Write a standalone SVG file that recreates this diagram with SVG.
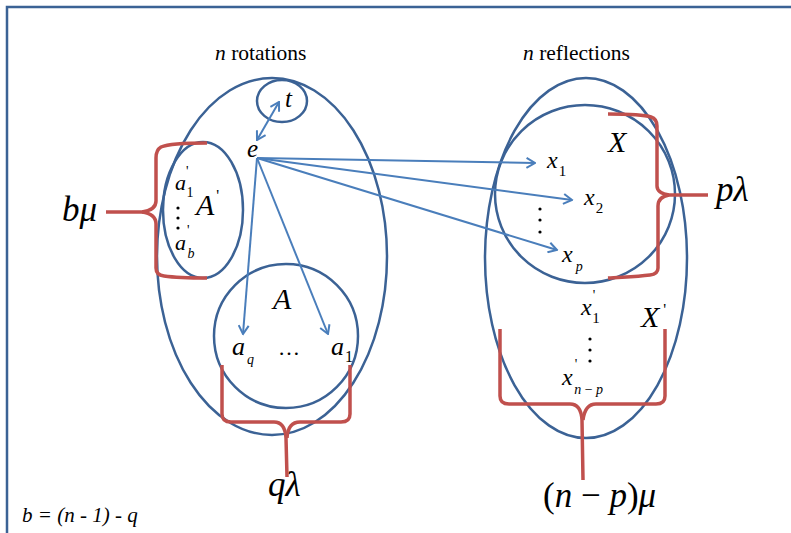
<svg xmlns="http://www.w3.org/2000/svg" width="791" height="533" viewBox="0 0 791 533">
<defs>
<style>
.ell{fill:none;stroke:#3b6295;stroke-width:2.5}
.br{fill:none;stroke:#c0504d;stroke-width:3.5;stroke-linecap:butt;stroke-linejoin:round}
.ar{fill:none;stroke:#4a7ebb;stroke-width:2}
text{font-family:'Liberation Serif','Times New Roman',serif;fill:#000}
.m{font-style:italic}
.r{font-style:normal}
</style>
<marker id="ah" viewBox="0 0 12 12" refX="10.5" refY="6" markerWidth="12" markerHeight="12" orient="auto-start-reverse" markerUnits="userSpaceOnUse">
<path d="M2,1 L10.5,6 L2,11" fill="none" stroke="#4a7ebb" stroke-width="2"/>
</marker>
</defs>
<rect x="0" y="0" width="791" height="533" fill="#fff"/>
<rect x="7" y="7" width="800" height="560" fill="none" stroke="#3b6295" stroke-width="2.5"/>

<g id="rotations">
<ellipse class="ell" cx="272" cy="256.5" rx="115" ry="178.5"/>
<text x="215" y="60" font-size="21.5"><tspan class="m">n</tspan> rotations</text>
</g>
<g id="node-t">
<ellipse class="ell" cx="282" cy="101" rx="25" ry="21"/>
<text class="m" x="285" y="107" font-size="25">t</text>
</g>
<g id="node-e">
<text class="m" x="247" y="157" font-size="25">e</text>
</g>
<g id="node-Aprime">
<ellipse class="ell" cx="203" cy="210" rx="40" ry="68"/>
<text class="m" x="196" y="215" font-size="30">A<tspan class="r" dx="2" dy="-14" font-size="16">'</tspan></text>
<text class="m" x="175" y="190" font-size="22">a<tspan class="r" dx="0" dy="-14" font-size="14">'</tspan><tspan class="r" dx="-2" dy="21" font-size="14">1</tspan></text>
<circle cx="178" cy="208" r="1.6"/><circle cx="178" cy="218" r="1.6"/><circle cx="178" cy="228" r="1.6"/>
<text class="m" x="175" y="250" font-size="22">a<tspan class="r" dx="1" dy="-15" font-size="14">'</tspan><tspan dx="-2" dy="23" font-size="14">b</tspan></text>
</g>
<g id="node-A">
<ellipse class="ell" cx="286" cy="336" rx="72" ry="72"/>
<text class="m" x="273" y="309" font-size="30">A</text>
<text class="m" x="232" y="355" font-size="26">a<tspan dx="2" dy="9" font-size="14">q</tspan></text>
<text class="r" x="278" y="355" font-size="22">…</text>
<text class="m" x="331" y="355" font-size="26">a<tspan class="r" dx="1" dy="7" font-size="16">1</tspan></text>
</g>
<g id="reflections">
<ellipse class="ell" cx="586" cy="258" rx="101" ry="180"/>
<text x="523" y="60" font-size="21.5"><tspan class="m">n</tspan> reflections</text>
</g>
<g id="node-X">
<ellipse class="ell" cx="585" cy="194" rx="90" ry="89"/>
<text class="m" x="608" y="152" font-size="30">X</text>
<text class="m" x="547" y="168" font-size="24">x<tspan class="r" dx="1" dy="8" font-size="15">1</tspan></text>
<text class="m" x="584" y="205" font-size="24">x<tspan class="r" dx="1" dy="8" font-size="15">2</tspan></text>
<circle cx="540" cy="209" r="1.6"/><circle cx="540" cy="220" r="1.6"/><circle cx="540" cy="232" r="1.6"/>
<text class="m" x="562" y="262" font-size="24">x<tspan dx="3" dy="9" font-size="14">p</tspan></text>
</g>
<g id="node-Xprime">
<text class="m" x="641" y="327" font-size="30">X<tspan class="r" dx="4" dy="-12" font-size="16">'</tspan></text>
<text class="m" x="581" y="315" font-size="24">x<tspan class="r" dx="1" dy="-15" font-size="14">'</tspan><tspan class="r" dx="-3" dy="23" font-size="15">1</tspan></text>
<circle cx="590" cy="339" r="1.6"/><circle cx="590" cy="350" r="1.6"/><circle cx="590" cy="361" r="1.6"/>
<text class="m" x="562" y="385" font-size="24">x<tspan class="r" dx="2" dy="-16" font-size="14">'</tspan><tspan dx="-3" dy="25" font-size="14">n <tspan class="r">−</tspan> p</tspan></text>
</g>

<g id="braces">
<path class="br" d="M207,143 C185,143 168,144 161,147 Q156,150 156,158 L156,201 Q156,210 142,212 L106,212"/>
<path class="br" d="M142,212 Q156,214 156,224 L156,268 Q156,275 164,276 C178,278 192,278 207,278"/>
<path class="br" d="M222,365 L222,414 Q222,422 231,422 L274,422 Q285,422 286,438 L287,477"/>
<path class="br" d="M350,365 L350,414 Q350,422 341,422 L300,422 Q288,422 287,438"/>
<path class="br" d="M608,114 C630,114 645,115 651,117 Q657,119 657,126 L657,186 Q657,193 669,195 L708,195"/>
<path class="br" d="M669,195 Q658,197 658,206 L658,268 Q658,274 650,275 C635,277 620,277 608,278"/>
<path class="br" d="M500,329 L500,396 Q500,404 509,404 L570,404 Q581,404 582,420 L583,480"/>
<path class="br" d="M665,329 L665,396 Q665,404 656,404 L596,404 Q585,404 583,420"/>
<text class="m" x="62" y="221" font-size="35">bμ</text>
<text class="m" x="268" y="496" font-size="35">qλ</text>
<text class="m" x="716" y="201" font-size="35">pλ</text>
<text class="m" x="543" y="507" font-size="35"><tspan class="r">(</tspan>n<tspan class="r"> − </tspan>p<tspan class="r">)</tspan>μ</text>
</g>

<g id="connectors">
<line class="ar" x1="257" y1="140" x2="279" y2="102" marker-start="url(#ah)" marker-end="url(#ah)"/>
<line class="ar" x1="257" y1="158" x2="535" y2="163" marker-end="url(#ah)"/>
<line class="ar" x1="257" y1="158" x2="572" y2="200" marker-end="url(#ah)"/>
<line class="ar" x1="257" y1="158" x2="557" y2="250" marker-end="url(#ah)"/>
<line class="ar" x1="257" y1="158" x2="243" y2="334" marker-end="url(#ah)"/>
<line class="ar" x1="257" y1="158" x2="328" y2="334" marker-end="url(#ah)"/>
</g>

<g id="note">
<text class="m" x="22" y="522" font-size="21">b = (n - 1) - q</text>
</g>
</svg>
